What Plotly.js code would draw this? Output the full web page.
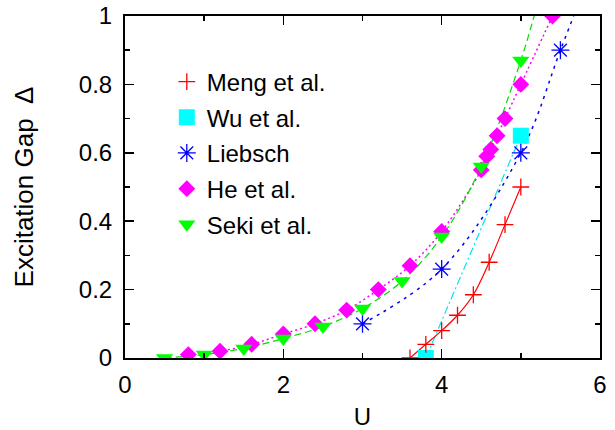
<!DOCTYPE html>
<html>
<head>
<meta charset="utf-8">
<script src="https://cdn.plot.ly/plotly-3.0.1.min.js"></script>
<style>html,body{margin:0;padding:0;background:#fff;}#chart{width:615px;height:430px;}</style>
</head>
<body>
<div id="chart"></div>
<script>
// ---- data ----
var mengU   = [3.6, 3.8, 4.0, 4.2, 4.4, 4.6, 4.8, 5.0];
var mengGap = [0.0, 0.04, 0.08, 0.125, 0.185, 0.28, 0.39, 0.5];

var wuU   = [3.8, 5.0];
var wuGap = [0.0, 0.65];

var liebschU   = [3.0, 4.0, 5.0, 5.5];
var liebschGap = [0.1, 0.26, 0.6, 0.9];
var liebschExtU = [5.75];      // fitted curve continues past last point
var liebschExtGap = [1.05];

var heU   = [0.8, 1.2, 1.6, 2.0, 2.4, 2.8, 3.2, 3.6, 4.0, 4.5, 4.57, 4.62, 4.7, 4.8, 5.0, 5.4];
var heGap = [0.01, 0.02, 0.04, 0.07, 0.1, 0.14, 0.2, 0.27, 0.37, 0.55, 0.59, 0.61, 0.65, 0.7, 0.8, 1.0];

var sekiU   = [0.5, 1.0, 1.5, 2.0, 2.5, 3.0, 3.5, 4.0, 4.5, 5.0];
var sekiGap = [0.0, 0.01, 0.028, 0.057, 0.092, 0.145, 0.225, 0.355, 0.56, 0.87];
var sekiExtU = [5.25];
var sekiExtGap = [1.07];

var seriesNames = ["Meng et al.", "Wu et al.", "Liebsch", "He et al.", "Seki et al."];

var xTickVals = [0, 2, 4, 6];
var xTickText = ["0", "2", "4", "6"];
var yTickVals = [0, 0.2, 0.4, 0.6, 0.8, 1.0];
var yTickText = ["0", "0.2", "0.4", "0.6", "0.8", "1"];

var FONT = "Liberation Sans, Arial, Helvetica, sans-serif";

var traces = [
  // lines (no legend)
  {x: wuU, y: wuGap, mode: "lines", showlegend: false, hoverinfo: "skip",
   line: {color: "#00e5ee", width: 1.2, dash: "8px,3px,2px,3px"}},
  {x: liebschU.concat(liebschExtU), y: liebschGap.concat(liebschExtGap), mode: "lines", showlegend: false, hoverinfo: "skip",
   line: {color: "#0000ee", width: 1.5, dash: "3px,5px", shape: "spline"}},
  {x: heU, y: heGap, mode: "lines", showlegend: false, hoverinfo: "skip",
   line: {color: "#ff00ff", width: 1.5, dash: "2px,3px", shape: "spline"}},
  {x: sekiU.concat(sekiExtU), y: sekiGap.concat(sekiExtGap), mode: "lines", showlegend: false, hoverinfo: "skip",
   line: {color: "#00dd00", width: 1.2, dash: "7px,4px", shape: "spline"}},
  {x: mengU, y: mengGap, mode: "lines", showlegend: false, hoverinfo: "skip",
   line: {color: "#ff0000", width: 1.2, shape: "spline"}},
  // markers
  {x: wuU, y: wuGap, mode: "markers", name: seriesNames[1], legendrank: 2, legendgroup: "b",
   marker: {symbol: "square", size: 16, color: "#00ffff"}},
  {x: liebschU, y: liebschGap, mode: "markers", name: seriesNames[2], legendrank: 3, legendgroup: "c",
   marker: {symbol: "asterisk-open", size: 15, color: "#0000ff", line: {color: "#0000ff", width: 1.3}}},
  {x: heU, y: heGap, mode: "markers", name: seriesNames[3], legendrank: 4, legendgroup: "d",
   marker: {symbol: "diamond", size: 13, color: "#ff00ff"}},
  {x: sekiU, y: sekiGap, mode: "markers", name: seriesNames[4], legendrank: 5, legendgroup: "e",
   marker: {symbol: "triangle-down", size: 15, color: "#00ff00"}},
  {x: mengU, y: mengGap, mode: "markers", name: seriesNames[0], legendrank: 1, legendgroup: "a",
   marker: {symbol: "cross-thin-open", size: 12, color: "#ff0000", line: {color: "#ff0000", width: 1.3}}}
];

var axisCommon = {
  showgrid: false, zeroline: false, showline: true, linecolor: "#000", linewidth: 2,
  mirror: "ticks", ticks: "inside", tickcolor: "#000", tickwidth: 1.5, ticklen: 9,
  tickfont: {family: FONT, size: 24, color: "#000"}
};

var layout = {
  width: 615, height: 430,
  margin: {l: 125, r: 15, t: 16, b: 72},
  paper_bgcolor: "#fff", plot_bgcolor: "#fff",
  font: {family: FONT, size: 24, color: "#000"},
  showlegend: true,
  legend: {x: 0.088, y: 0.873, xanchor: "left", yanchor: "top",
           bgcolor: "rgba(0,0,0,0)", borderwidth: 0,
           font: {family: FONT, size: 24, color: "#000"},
           tracegroupgap: 1.5, itemsizing: "trace"},
  xaxis: Object.assign({}, axisCommon, {
    range: [0, 6], tickmode: "array", tickvals: xTickVals, ticktext: xTickText,
    ticklabelstandoff: 4,
    minor: {dtick: 1, ticks: "inside", ticklen: 5, tickcolor: "#000", tickwidth: 1.5, showgrid: false},
    title: {text: "U", font: {family: FONT, size: 24, color: "#000"}, standoff: 24}
  }),
  yaxis: Object.assign({}, axisCommon, {
    range: [0, 1], tickmode: "array", tickvals: yTickVals, ticktext: yTickText,
    ticklabelstandoff: 6,
    minor: {dtick: 0.1, ticks: "inside", ticklen: 5, tickcolor: "#000", tickwidth: 1.5, showgrid: false},
    title: {text: "Excitation Gap  \u0394", font: {family: FONT, size: 26, color: "#000"}, standoff: 38}
  })
};

Plotly.newPlot("chart", traces, layout, {staticPlot: true, displayModeBar: false});
</script>
</body>
</html>
